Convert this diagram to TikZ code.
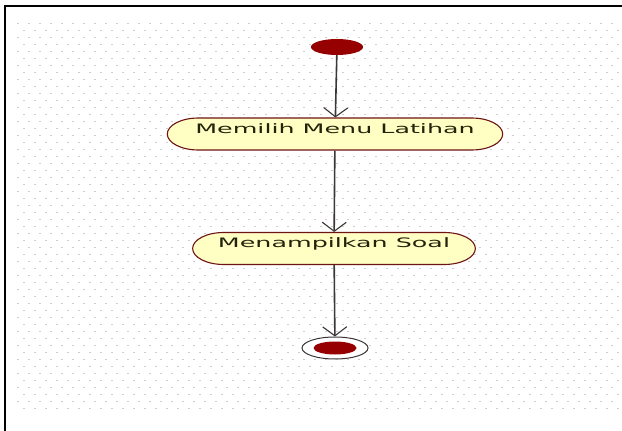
\documentclass[tikz,border=0pt]{standalone}
\usepackage{fontspec}
\setmainfont{DejaVu Sans}
\usetikzlibrary{shapes.geometric,shapes.misc,arrows.meta}
\definecolor{dotred}{RGB}{150,0,0}
\definecolor{actfill}{RGB}{255,255,196}
\definecolor{actline}{RGB}{110,20,20}
\definecolor{flowgray}{RGB}{60,55,55}
\definecolor{griddot}{RGB}{205,205,205}
\begin{document}
\begin{tikzpicture}[x=1pt,y=-1pt,
		startdot/.style={ellipse, fill=dotred, minimum width=52pt, minimum height=16pt, inner sep=0pt},
		endring/.style={ellipse, draw=flowgray, line width=1pt, fill=white, minimum width=66pt, minimum height=22pt, inner sep=0pt},
		enddot/.style={ellipse, fill=dotred, minimum width=43pt, minimum height=13pt, inner sep=0pt},
		activity/.style={rounded rectangle, draw=actline, line width=1.1pt, fill=actfill, xscale=1.95,
			minimum height=32pt, text height=9pt, text depth=11pt, inner sep=0pt,
			font=\fontsize{13}{15}\selectfont, text={rgb,255:red,35;green,35;blue,10}},
		flow/.style={draw=flowgray, line width=1.6pt, -{Straight Barb[length=9pt,width=24pt,line width=1.1pt]}}]
			\useasboundingbox (0,0) rectangle (622,431);
			\fill[white] (0,0) rectangle (622,431);
			% dotted background
			\foreach \r in {0,...,55} {
				\foreach \c in {0,...,54} {
					\fill[griddot] ({17+11*\c+5.5*mod(\r,2)},{23+7*\r}) rectangle +(2.4,1.2);
				}
			}
			% frame
			\draw[black, line width=2.6pt] (5,431) -- (5,6) -- (622,6);
			% nodes
			\node[startdot] (start) at (337,47) {};
			\node[activity, minimum width=172pt] (menu) at (335,134) {Memilih Menu Latihan};
			\node[activity, minimum width=145pt] (soal) at (334,248.5) {Menampilkan Soal};
			\node[endring] (end) at (335,348) {};
			\node[enddot] (enddot) at (end) {};
			% flows
			\draw[flow] (start) -- (menu);
			\draw[flow] (menu) -- (soal);
			\draw[flow] (soal) -- (end);
		\end{tikzpicture}
\end{document}
